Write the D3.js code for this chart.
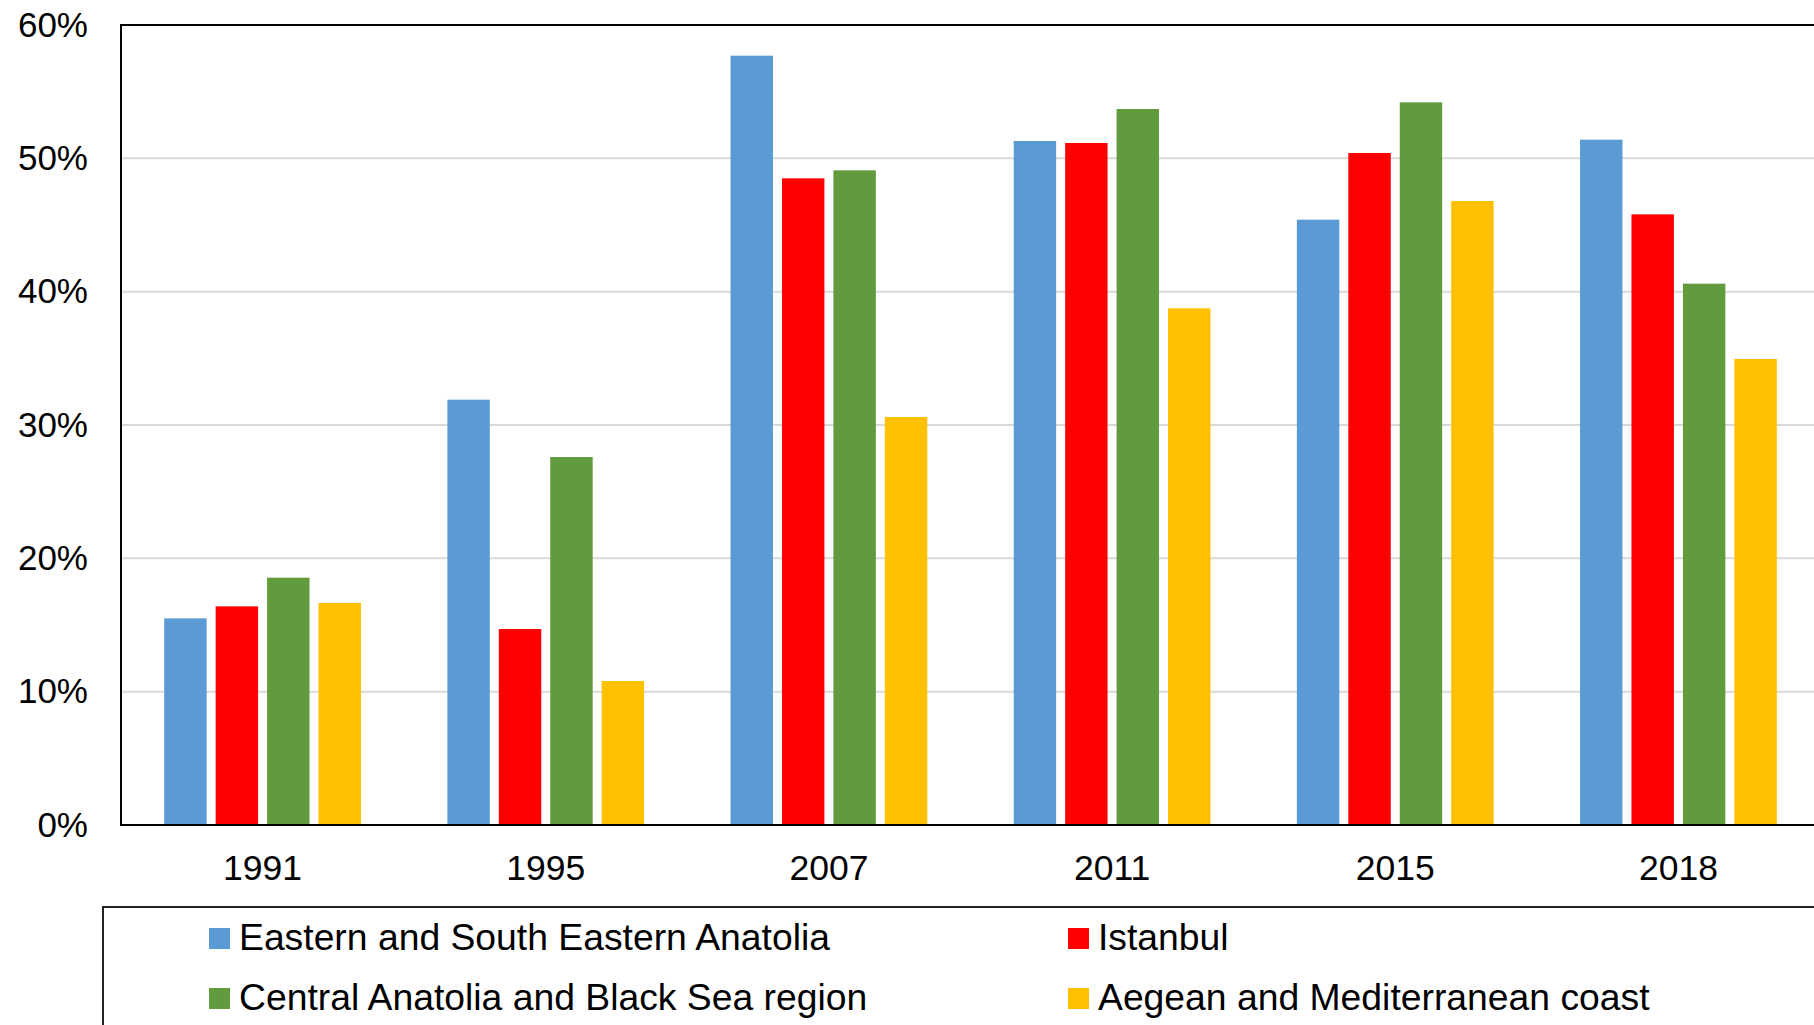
<!DOCTYPE html>
<html>
<head>
<meta charset="utf-8">
<script src="https://cdn.jsdelivr.net/npm/d3@7"></script>
<style>
  body { margin: 0; background: #fff; }
  text { font-family: "Liberation Sans", Arial, sans-serif; fill: #000; }
</style>
</head>
<body>
<div id="chart"></div>
<script>
var years = ['1991', '1995', '2007', '2011', '2015', '2018'];
var series = [
	'Eastern and South Eastern Anatolia',
	'Istanbul',
	'Central Anatolia and Black Sea region',
	'Aegean and Mediterranean coast'
];
var eastern = [15.5, 31.9, 57.7, 51.3, 45.4, 51.4];
var istanbul = [16.4, 14.7, 48.5, 51.15, 50.4, 45.8];
var central = [18.55, 27.6, 49.1, 53.7, 54.2, 40.6];
var aegean = [16.65, 10.8, 30.6, 38.75, 46.8, 34.95];
var y_ticks = [0, 10, 20, 30, 40, 50, 60];

var colors = ['#5b9bd5', '#ff0000', '#629b3d', '#ffc000'];
var values = [eastern, istanbul, central, aegean];

var width = 1814;
var height = 1025;

var svg = d3.select('#chart')
	.append('svg')
	.attr('width', width)
	.attr('height', height);

// scales
var x0 = d3.scaleBand()
	.domain(years)
	.range([121, 1820]);
var x1 = d3.scaleBand()
	.domain(series)
	.range([0, x0.bandwidth()])
	.paddingInner(0.175)
	.paddingOuter(0.84);
var y = d3.scaleLinear()
	.domain([0, 60])
	.range([825, 25]);

// gridlines
svg.append('g')
	.selectAll('line')
	.data(y_ticks.slice(1, -1))
	.enter()
	.append('line')
	.attr('x1', 121)
	.attr('x2', 1820)
	.attr('y1', function (d) { return y(d); })
	.attr('y2', function (d) { return y(d); })
	.attr('stroke', '#d9d9d9')
	.attr('stroke-width', 2);

// bars
var rows = [];
series.forEach(function (s, i) {
	years.forEach(function (yr, j) {
		rows.push({ year: yr, series: s, value: values[i][j], color: colors[i] });
	});
});

svg.append('g')
	.selectAll('rect')
	.data(rows)
	.enter()
	.append('rect')
	.attr('x', function (d) { return x0(d.year) + x1(d.series); })
	.attr('y', function (d) { return y(d.value); })
	.attr('width', x1.bandwidth())
	.attr('height', function (d) { return y(0) - y(d.value); })
	.attr('fill', function (d) { return d.color; });

// plot frame
svg.append('rect')
	.attr('x', 121)
	.attr('y', y(60))
	.attr('width', 1820 - 121)
	.attr('height', y(0) - y(60))
	.attr('fill', 'none')
	.attr('stroke', '#000')
	.attr('stroke-width', 2);

// y axis labels
var y_axis = d3.axisLeft(y)
	.tickValues(y_ticks)
	.tickSize(0)
	.tickPadding(33)
	.tickFormat(function (d) { return d + '%'; });
svg.append('g')
	.attr('transform', 'translate(121,0)')
	.call(y_axis)
	.call(function (g) { g.select('.domain').remove(); })
	.selectAll('text')
	.attr('font-size', 35)
	.attr('font-family', '"Liberation Sans", Arial, sans-serif');

// x axis labels
var x_axis = d3.axisBottom(x0).tickSize(0).tickPadding(30);
svg.append('g')
	.attr('transform', 'translate(0,' + y(0) + ')')
	.call(x_axis)
	.call(function (g) { g.select('.domain').remove(); })
	.selectAll('text')
	.attr('font-size', 35.5)
	.attr('font-family', '"Liberation Sans", Arial, sans-serif');

// legend
svg.append('rect')
	.attr('x', 103)
	.attr('y', 907)
	.attr('width', 1800)
	.attr('height', 300)
	.attr('fill', 'none')
	.attr('stroke', '#222')
	.attr('stroke-width', 2);

var legend_pos = [[209, 928], [1068, 928], [209, 988], [1068, 988]];
var legend = svg.append('g')
	.selectAll('g')
	.data(series)
	.enter()
	.append('g')
	.attr('transform', function (d, i) {
		return 'translate(' + legend_pos[i][0] + ',' + legend_pos[i][1] + ')';
	});
legend.append('rect')
	.attr('width', 21)
	.attr('height', 21)
	.attr('fill', function (d, i) { return colors[i]; });
legend.append('text')
	.attr('x', 30)
	.attr('y', 22)
	.attr('font-size', 37.3)
	.text(function (d) { return d; });
</script>
</body>
</html>
